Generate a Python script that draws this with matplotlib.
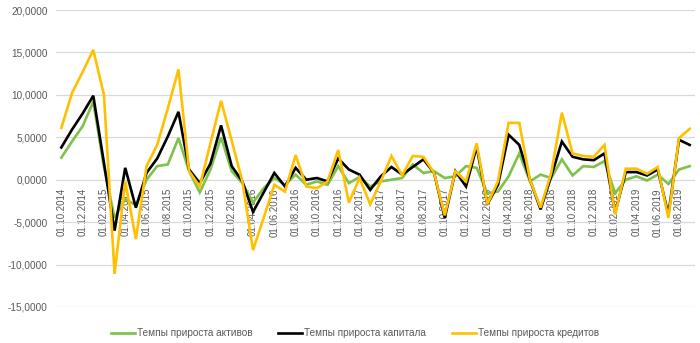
import matplotlib
matplotlib.use("Agg")
import matplotlib.pyplot as plt
import numpy as np
import pandas as pd

dates = pd.date_range("2014-10-01", periods=60, freq="MS")
categories = [d.strftime("01.%m.%Y") for d in dates]

assets = [2.6, 4.5, 6.3, 9.2, 1.5, -4.5, -2.3, -3.0, 0.0, 1.6,
          1.8, 4.9, 1.0, -1.5, 1.2, 5.0, 1.0, -0.4, -2.7, -1.0,
          0.2, -0.6, 0.6, -0.6, -0.2, -0.6, 1.6, -0.4, 0.3, -0.8,
          -0.2, 0.0, 0.2, 1.8, 0.8, 1.0, 0.2, 0.4, 1.6, 1.4,
          -1.6, -1.4, 0.4, 3.1, -0.2, 0.6, 0.2, 2.4, 0.5, 1.6,
          1.5, 2.2, -1.6, 0.0, 0.4, -0.1, 0.6, -0.5, 1.2, 1.6]
capital = [3.8, 5.9, 7.8, 9.9, 2.0, -6.0, 1.4, -3.3, 0.8, 2.5,
           5.1, 8.0, 1.2, -0.4, 1.9, 6.4, 1.6, -0.2, -3.8, -1.5,
           0.8, -0.8, 1.4, 0.0, 0.2, -0.2, 2.5, 1.2, 0.6, -1.2,
           0.4, 1.5, 0.6, 1.5, 2.4, 0.8, -4.5, 1.0, -0.8, 3.9,
           -2.9, -0.6, 5.3, 4.1, 0.0, -3.5, 0.4, 4.5, 2.7, 2.4,
           2.3, 3.1, -3.9, 0.9, 0.9, 0.5, 1.2, -4.1, 4.7, 4.1]
loans = [6.1, 10.2, 12.7, 15.3, 10.0, -11.1, -0.2, -7.0, 1.6, 4.1,
         8.4, 13.0, 1.0, -0.8, 4.3, 9.3, 4.6, -0.2, -8.3, -4.5,
         -0.6, -1.4, 2.9, -0.8, -1.0, -0.2, 3.5, -2.7, 0.2, -2.9,
         -0.2, 2.8, 0.5, 2.8, 2.7, 0.8, -4.2, 1.0, -0.2, 4.3,
         -2.9, -0.2, 6.7, 6.7, 0.0, -3.3, 0.8, 7.9, 3.1, 2.8,
         2.7, 4.1, -4.1, 1.3, 1.3, 0.7, 1.5, -4.5, 4.9, 6.0]

series_names = ["Темпы прироста активов", "Темпы прироста капитала", "Темпы прироста кредитов"]
colors = ["#7DC24B", "#000000", "#FFC000"]
yticks = [-15, -10, -5, 0, 5, 10, 15, 20]

plt.rcParams['font.family'] = ['Liberation Sans', 'DejaVu Sans']

fig = plt.figure(figsize=(7.0, 3.43), dpi=100)
ax = fig.add_axes([56/700, 1 - 307/343, 639/700, 297/343])

x = np.arange(len(categories))
for vals, name, c in zip([assets, capital, loans], series_names, colors):
    ax.plot(x, vals, color=c, lw=1.9, label=name, solid_joinstyle='miter')

ax.set_xlim(-0.5, len(categories) - 0.5)
ax.set_ylim(-15, 20)
ax.set_yticks(yticks)
ax.set_yticklabels([f"{v:.4f}".replace(".", ",") for v in yticks], fontsize=7.2, color="#595959")
ax.yaxis.grid(True, color="#D9D9D9", lw=0.9)
ax.set_axisbelow(True)
for s in ax.spines.values():
    s.set_visible(False)
ax.spines['bottom'].set_position(('data', 0))
ax.tick_params(axis='both', length=0)
ax.tick_params(axis='y', pad=6)
ax.set_xticks(x[::2])
ax.set_xticklabels(categories[::2], rotation=90, fontsize=7, color="#595959")
ax.tick_params(axis='x', pad=6)

fig.legend(loc='lower center', bbox_to_anchor=(0.507, -0.012), ncol=3, frameon=False,
           fontsize=7.2, handlelength=2.4, handletextpad=0.2, columnspacing=2.6,
           labelcolor="#595959")

fig.savefig("out.png", dpi=100)
